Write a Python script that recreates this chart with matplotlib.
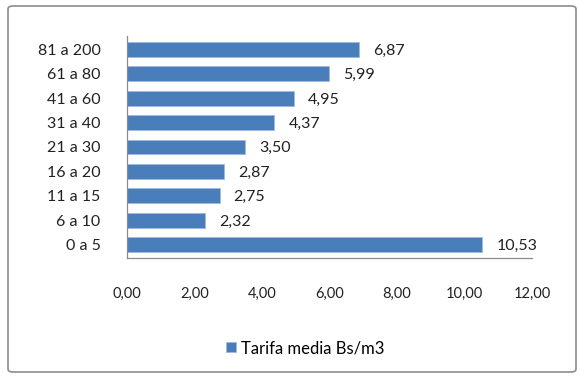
import matplotlib
matplotlib.use("Agg")
import matplotlib.pyplot as plt
from matplotlib.patches import FancyBboxPatch

categories = ["0 a 5", "6 a 10", "11 a 15", "16 a 20", "21 a 30",
              "31 a 40", "41 a 60", "61 a 80", "81 a 200"]
values = [10.53, 2.32, 2.75, 2.87, 3.50, 4.37, 4.95, 5.99, 6.87]
xticks = [0, 2, 4, 6, 8, 10, 12]
series_name = "Tarifa media Bs/m3"

plt.rcParams["font.family"] = ["Lato", "DejaVu Sans"]

W, H = 580, 378
fig = plt.figure(figsize=(W / 100, H / 100), dpi=100)

# outer chart frame
frame = FancyBboxPatch((8 / W, 6 / H), 568 / W, 366 / H,
                       boxstyle="round,pad=0,rounding_size=0.008",
                       transform=fig.transFigure, fill=False,
                       edgecolor="#8c8c8c", linewidth=1.2)
fig.patches.append(frame)

ax = fig.add_axes([127 / W, 1 - 258 / H, (532 - 127) / W, (258 - 36) / H])
color = "#4a7ebb"
bars = ax.barh(range(len(categories)), values, height=0.6, color=color,
               edgecolor="#9dbbe0", linewidth=0.6, label=series_name)

ax.set_xlim(0, 12)
ax.set_ylim(-0.55, len(categories) - 0.45)
ax.set_yticks(range(len(categories)))
ax.set_yticklabels(categories, fontsize=11.5)
ax.set_xticks(xticks)
ax.set_xticklabels([f"{t:.2f}".replace(".", ",") for t in xticks], fontsize=10.5)
ax.tick_params(axis="x", length=0, pad=21, colors="#222222")
ax.tick_params(axis="y", length=0, pad=19, colors="#222222")

for s in ["top", "right"]:
    ax.spines[s].set_visible(False)
for s in ["left", "bottom"]:
    ax.spines[s].set_color("#8c8c8c")
    ax.spines[s].set_linewidth(0.9)

for i, v in enumerate(values):
    ax.annotate(f"{v:.2f}".replace(".", ","), (v, i), xytext=(10, -1),
                textcoords="offset points", va="center", ha="left",
                fontsize=11.5, color="#222222")

fig.legend(handles=[bars], labels=[series_name], loc="center",
           bbox_to_anchor=(305 / W, 1 - 348 / H), frameon=False,
           fontsize=12, handlelength=0.6, handleheight=0.6,
           handletextpad=0.3)

fig.savefig("out.png", dpi=100)
